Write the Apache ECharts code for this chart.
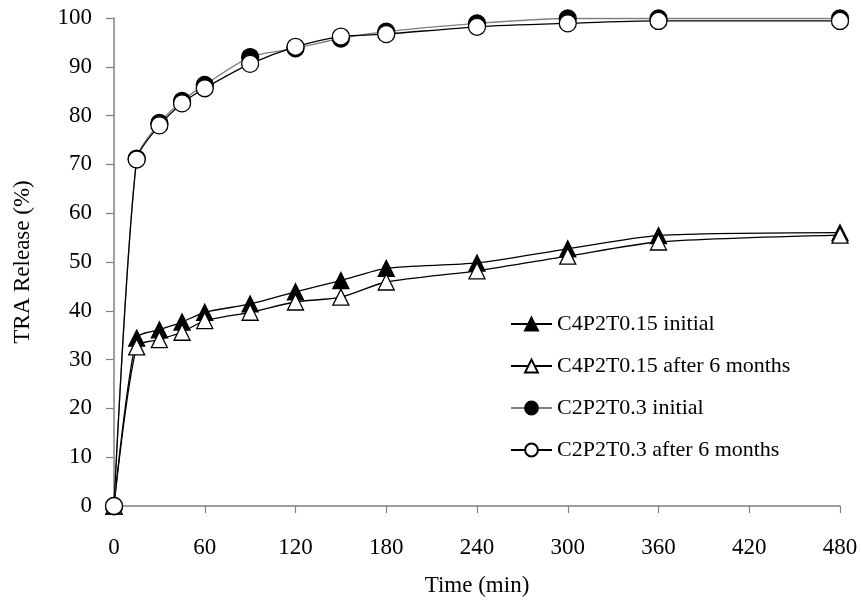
<!DOCTYPE html>
<html><head><meta charset="utf-8">
<script src="https://cdn.jsdelivr.net/npm/echarts@6/dist/echarts.min.js"></script>
<style>html,body{margin:0;padding:0;background:#fff}#c{width:861px;height:602px}</style>
</head><body><div id="c"></div>
<script>
const times = [0, 15, 30, 45, 60, 90, 120, 150, 180, 240, 300, 360, 480];
const c4Initial = [0, 34.4, 36.1, 37.7, 39.7, 41.4, 43.9, 46.2, 48.7, 49.8, 52.7, 55.4, 56.0];
const c4After = [0, 32.6, 34.1, 35.6, 38.0, 39.7, 41.8, 42.8, 45.9, 48.2, 51.2, 54.1, 55.5];
const c2Initial = [0, 71.2, 78.5, 83.0, 86.3, 92.0, 93.8, 95.8, 97.2, 98.9, 99.9, 99.9, 99.9];
const c2After = [0, 71.0, 78.0, 82.5, 85.6, 90.6, 94.1, 96.2, 96.7, 98.2, 98.9, 99.4, 99.4];
const names = ['C4P2T0.15 initial', 'C4P2T0.15 after 6 months', 'C2P2T0.3 initial', 'C2P2T0.3 after 6 months'];
const xTicks = [0, 60, 120, 180, 240, 300, 360, 420, 480];

const pair = arr => times.map((t, i) => [t, arr[i]]);
const font = 'Liberation Serif';
function ser(name, data, symbol, size, fill, lineColor, z) {
  return {
    name, type: 'line', data: pair(data), symbol, symbolSize: size, smooth: 0.25, z,
    lineStyle: { color: lineColor, width: 1.3 },
    itemStyle: { color: fill, borderColor: '#000', borderWidth: 1.3 }
  };
}
const chart = echarts.init(document.getElementById('c'), null, { renderer: 'canvas' });
chart.setOption({
  animation: false,
  backgroundColor: '#fff',
  grid: { left: 114, right: 21, top: 18, bottom: 93 },
  xAxis: {
    type: 'value', min: 0, max: 480, interval: 60,
    name: 'Time (min)', nameLocation: 'middle', nameGap: 68,
    nameTextStyle: { fontFamily: font, fontSize: 23, color: '#000' },
    axisLine: { lineStyle: { color: '#808080', width: 1.5 } },
    axisTick: { show: true, length: 7, lineStyle: { color: '#808080', width: 1.2 } },
    axisLabel: { fontFamily: font, fontSize: 23, color: '#000', margin: 30,
      formatter: v => xTicks.includes(v) ? String(v) : '' },
    splitLine: { show: false }
  },
  yAxis: {
    type: 'value', min: 0, max: 100, interval: 10,
    name: 'TRA Release (%)', nameLocation: 'middle', nameGap: 80, nameRotate: 90,
    nameTextStyle: { fontFamily: font, fontSize: 23, color: '#000' },
    axisLine: { show: true, lineStyle: { color: '#808080', width: 1.5 } },
    axisTick: { show: true, length: 8, lineStyle: { color: '#808080', width: 1.2 } },
    axisLabel: { fontFamily: font, fontSize: 23, color: '#000', margin: 22 },
    splitLine: { show: false }
  },
  legend: {
    orient: 'vertical', left: 505, top: 308,
    itemWidth: 41, itemHeight: 16, itemGap: 20,
    textStyle: { fontFamily: font, fontSize: 22, color: '#000' },
    data: names
  },
  series: [
    ser(names[0], c4Initial, 'triangle', 16, '#000', '#000', 2),
    ser(names[1], c4After, 'triangle', 16, '#fff', '#000', 3),
    ser(names[2], c2Initial, 'circle', 17, '#000', '#808080', 4),
    ser(names[3], c2After, 'circle', 17, '#fff', '#000', 5)
  ]
});
</script></body></html>
